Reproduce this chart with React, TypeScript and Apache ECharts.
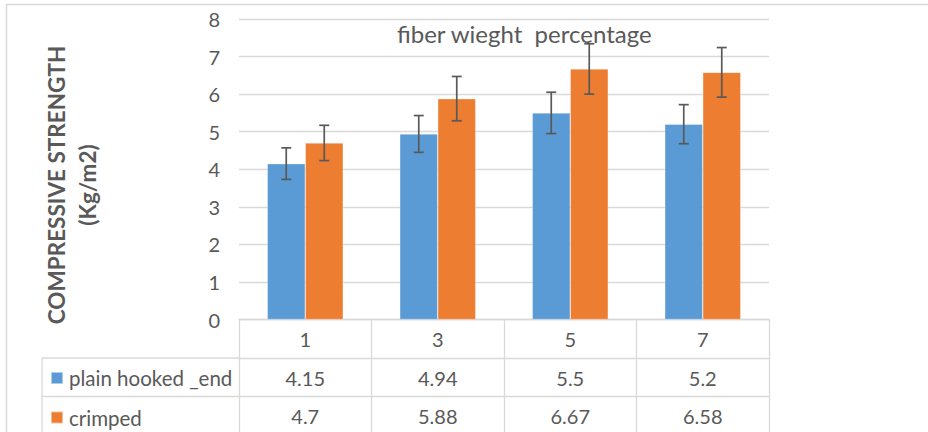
import React, { useEffect, useRef } from "react";
import * as echarts from "echarts";

const categories = ["1", "3", "5", "7"];
const seriesNames = ["plain hooked _end", "crimped"];
const plainHooked = [4.15, 4.94, 5.5, 5.2];
const crimped = [4.7, 5.88, 6.67, 6.58];
const plainErr = [0.42, 0.49, 0.55, 0.52];
const crimpedErr = [0.47, 0.59, 0.67, 0.66];
const yTicks = [0, 1, 2, 3, 4, 5, 6, 7, 8];
const titleText = "fiber wieght  percentage";
const yName = ["COMPRESSIVE STRENGTH", "(Kg/m2)"];

const BLUE = "#5B9BD5";
const ORANGE = "#ED7D31";
const GRID_LINE = "#d9d9d9";
const TEXT = "#595959";
const FONT = "Lato";

export default function App() {
  const ref = useRef<HTMLDivElement>(null);
  useEffect(() => {
    document.body.style.margin = "0";
    if (!ref.current) return;
    const chart = echarts.init(ref.current, undefined, { renderer: "svg" });

    const gridLeft = 239;
    const gridRight = 769;
    const gridTop = 19;
    const gridBottomY = 319.5;
    const rowH = 38.5;
    const barW = 38;

    const errSeries = (vals: number[], errs: number[], offset: number, name: string) => ({
      type: "custom",
      name: name + " err",
      z: 5,
      silent: true,
      data: vals.map((v, i) => [i, v - errs[i], v + errs[i]]),
      encode: { x: 0, y: [1, 2] },
      renderItem: (params: any, api: any) => {
        const lo = api.coord([api.value(0), api.value(1)]);
        const hi = api.coord([api.value(0), api.value(2)]);
        const x = lo[0] + offset;
        const cap = 5;
        const style = { stroke: "#595959", lineWidth: 1.7 };
        return {
          type: "group",
          children: [
            { type: "line", shape: { x1: x, y1: hi[1], x2: x, y2: lo[1] }, style },
            { type: "line", shape: { x1: x - cap, y1: hi[1], x2: x + cap, y2: hi[1] }, style },
            { type: "line", shape: { x1: x - cap, y1: lo[1], x2: x + cap, y2: lo[1] }, style },
          ],
        };
      },
    });

    const tableAxis = (offset: number, values: number[] | null, tickLen: number) => ({
      type: "category",
      gridIndex: 0,
      position: "bottom",
      offset,
      data: categories,
      axisLine: { show: true, lineStyle: { color: GRID_LINE, width: 1.3 } },
      axisTick: { show: true, length: tickLen, lineStyle: { color: GRID_LINE, width: 1.3 } },
      axisLabel: {
        show: true,
        margin: 19.5,
        verticalAlign: "middle",
        color: TEXT,
        fontFamily: FONT,
        fontSize: 20,
        formatter: (v: string, i: number) => (values ? String(values[i]) : v),
      },
      splitLine: { show: false },
    });

    chart.setOption({
      animation: false,
      backgroundColor: "#fff",
      textStyle: { fontFamily: FONT },
      grid: {
        left: gridLeft,
        right: 928 - gridRight,
        top: gridTop,
        bottom: 432 - gridBottomY,
        containLabel: false,
      },
      title: {
        text: titleText,
        left: 397,
        top: 21,
        padding: 0,
        textStyle: { fontFamily: FONT, fontSize: 24, fontWeight: "normal", color: TEXT },
      },
      legend: {
        data: seriesNames,
        orient: "vertical",
        left: 50,
        top: 367.5,
        padding: 0,
        itemGap: 18.5,
        itemWidth: 12,
        itemHeight: 12,
        icon: "rect",
        selectedMode: false,
        textStyle: { fontFamily: FONT, fontSize: 20.5, color: TEXT, padding: [0, 0, 0, 1] },
      },
      xAxis: [
        tableAxis(0, null, rowH),
        tableAxis(rowH, plainHooked, rowH),
        tableAxis(rowH * 2, crimped, 40),
      ],
      yAxis: {
        type: "value",
        min: yTicks[0],
        max: yTicks[yTicks.length - 1],
        interval: 1,
        axisLine: { show: false },
        axisTick: { show: false },
        axisLabel: { color: TEXT, fontFamily: FONT, fontSize: 20, margin: 19 },
        splitLine: { lineStyle: { color: GRID_LINE, width: 1.3 } },
      },
      series: [
        {
          type: "bar",
          name: seriesNames[0],
          data: plainHooked,
          barWidth: barW,
          barGap: "0%",
          itemStyle: { color: BLUE, borderColor: "rgba(255,255,255,0.5)", borderWidth: 0.6 },
        },
        {
          type: "bar",
          name: seriesNames[1],
          data: crimped,
          barWidth: barW,
          barGap: "0%",
          itemStyle: { color: ORANGE, borderColor: "rgba(255,255,255,0.5)", borderWidth: 0.6 },
        },
        errSeries(plainHooked, plainErr, -barW / 2, seriesNames[0]),
        errSeries(crimped, crimpedErr, barW / 2, seriesNames[1]),
      ],
      graphic: [
        {
          type: "rect",
          shape: { x: 6.5, y: 4.5, width: 1000, height: 1000 },
          style: { fill: "none", stroke: GRID_LINE, lineWidth: 1.5 },
          silent: true,
        },
        {
          type: "line",
          shape: { x1: 42, y1: gridBottomY + rowH, x2: gridLeft, y2: gridBottomY + rowH },
          style: { stroke: GRID_LINE, lineWidth: 1.3 },
        },
        {
          type: "line",
          shape: { x1: 42, y1: gridBottomY + rowH * 2, x2: gridLeft, y2: gridBottomY + rowH * 2 },
          style: { stroke: GRID_LINE, lineWidth: 1.3 },
        },
        {
          type: "line",
          shape: { x1: 42, y1: gridBottomY + rowH, x2: 42, y2: 440 },
          style: { stroke: GRID_LINE, lineWidth: 1.3 },
        },
        {
          type: "text",
          x: 72,
          y: 185,
          rotation: Math.PI / 2,
          style: {
            text: yName.join("\n"),
            fill: TEXT,
            font: `bold 22.5px ${FONT}`,
            align: "center",
            verticalAlign: "middle",
            lineHeight: 31,
          },
        },
      ],
    });
    return () => chart.dispose();
  }, []);
  return <div ref={ref} style={{ width: 928, height: 432 }} />;
}
